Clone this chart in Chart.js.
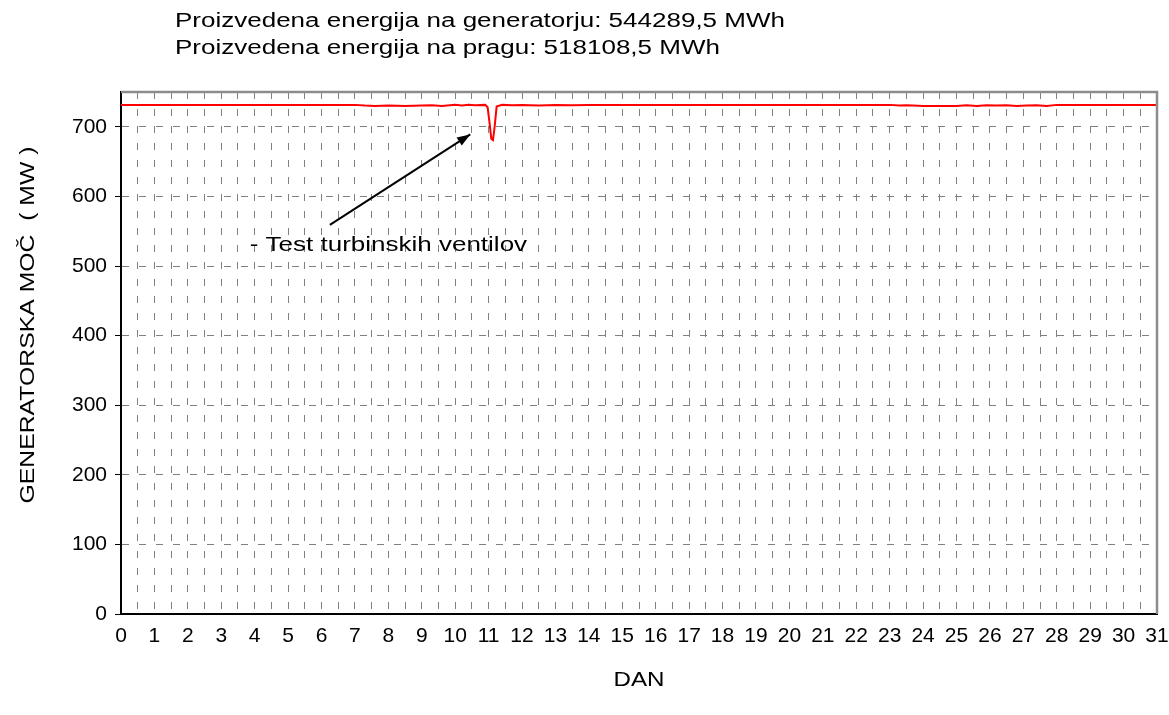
<!DOCTYPE html>
<html>
<head>
    <title>generatorska-moc</title>
    <meta charset="utf-8">
    <script src="https://cdn.jsdelivr.net/npm/chart.js"></script>
    <style>
        body { margin: 0; background: #fff; }
        #wrap { width: 1169px; height: 715px; }
    </style>
</head>
<body>
    <div id="wrap">
        <canvas id="chart"></canvas>
    </div>

    <script>
        // data (day of month, MW)
        const days = [0, 0.5, 1, 2, 3, 4, 5, 6, 7, 7.3, 7.6, 8, 8.5, 9, 9.3, 9.6, 10, 10.2, 10.4, 10.6, 10.9,
            10.97, 11.03, 11.08, 11.13, 11.18, 11.24, 11.4, 11.7, 12, 12.5, 13, 13.5, 14, 15, 16, 17, 18,
            19, 20, 21, 22, 23, 23.3, 23.5, 23.7, 24, 24.5, 25, 25.3, 25.6, 25.9, 26.2, 26.5, 26.8, 27.1,
            27.4, 27.7, 28, 28.5, 29, 30, 31];
        const mw = [731.5, 731.5, 731.5, 731.5, 731.5, 731.5, 731.5, 731.5, 731.5, 730.5, 730, 730.5, 730, 730.5, 731, 730, 731.5, 730.5, 731.5, 731, 731.5,
            728, 705, 683, 681, 700, 729, 731.5, 731, 731.5, 730.5, 731.5, 731, 731.5, 731.5, 731.5, 731.5, 731.5,
            731.5, 731.5, 731.5, 731.5, 731.5, 730.5, 731, 730.5, 730, 730, 730, 731, 730, 731, 730.5, 731, 730, 730.5,
            731, 730, 731.5, 731.5, 731.5, 731.5, 731.5];
        const yTicks = [0, 100, 200, 300, 400, 500, 600, 700];

        const titleLines = [
            'Proizvedena energija na generatorju: 544289,5 MWh',
            'Proizvedena energija na pragu: 518108,5 MWh'
        ];
        const yTitle = 'GENERATORSKA MOČ  ( MW )';
        const xTitle = 'DAN';
        const noteText = '- Test turbinskih ventilov';
        const arrowFrom = [6.25, 559];
        const arrowTo = [10.45, 689];
        const notePos = [3.85, 529];

        const font = 'Liberation Sans, Arial, sans-serif';

        // text a bit wider than the font, as in the original picture
        function wideText(ctx, text, x, y, stretch, rot) {
            ctx.save();
            ctx.translate(x, y);
            if (rot) ctx.rotate(rot);
            ctx.scale(stretch, 1);
            ctx.fillText(text, 0, 0);
            ctx.restore();
        }

        const extras = {
            id: 'extras',
            afterDraw(chart) {
                const ctx = chart.ctx;
                const a = chart.chartArea;
                const xs = chart.scales.x, ys = chart.scales.y;
                ctx.save();
                // gray frame top/right
                ctx.strokeStyle = '#8c8c8c';
                ctx.lineWidth = 2.5;
                ctx.beginPath();
                ctx.moveTo(a.left, a.top);
                ctx.lineTo(a.right, a.top);
                ctx.lineTo(a.right, a.bottom);
                ctx.stroke();

                ctx.fillStyle = '#000';
                ctx.font = '20px ' + font;
                ctx.textBaseline = 'middle';
                ctx.textAlign = 'left';
                wideText(ctx, titleLines[0], 175, 21, 1.3);
                wideText(ctx, titleLines[1], 175, 48, 1.3);

                // axis titles
                ctx.textAlign = 'center';
                ctx.font = '21px ' + font;
                wideText(ctx, xTitle, (a.left + a.right) / 2, 680, 1.15);
                wideText(ctx, yTitle, 28, 325, 1.18, -Math.PI / 2);

                // note + arrow
                ctx.textAlign = 'left';
                ctx.font = '20px ' + font;
                wideText(ctx, noteText, xs.getPixelForValue(notePos[0]), ys.getPixelForValue(notePos[1]), 1.3);
                const x1 = xs.getPixelForValue(arrowFrom[0]), y1 = ys.getPixelForValue(arrowFrom[1]);
                const x2 = xs.getPixelForValue(arrowTo[0]), y2 = ys.getPixelForValue(arrowTo[1]);
                ctx.strokeStyle = '#000';
                ctx.lineWidth = 2;
                ctx.beginPath();
                ctx.moveTo(x1, y1);
                ctx.lineTo(x2, y2);
                ctx.stroke();
                const ang = Math.atan2(y2 - y1, x2 - x1);
                ctx.beginPath();
                ctx.moveTo(x2, y2);
                ctx.lineTo(x2 - 14 * Math.cos(ang - 0.35), y2 - 14 * Math.sin(ang - 0.35));
                ctx.lineTo(x2 - 14 * Math.cos(ang + 0.35), y2 - 14 * Math.sin(ang + 0.35));
                ctx.closePath();
                ctx.fill();
                ctx.restore();
            }
        };

        new Chart(document.getElementById('chart'), {
            type: 'line',
            data: {
                datasets: [{
                    data: days.map((d, i) => ({ x: d, y: mw[i] })),
                    borderColor: '#ff0000',
                    borderWidth: 2,
                    pointRadius: 0,
                    tension: 0,
                    fill: false
                }]
            },
            options: {
                responsive: true,
                maintainAspectRatio: false,
                animation: false,
                layout: { padding: { top: 92, right: 12, left: 0, bottom: 0 } },
                plugins: {
                    legend: { display: false },
                    tooltip: { enabled: false }
                },
                scales: {
                    x: {
                        type: 'linear',
                        min: 0,
                        max: 31,
                        afterFit(scale) {
                            scale.height = 101;
                            scale.paddingLeft = 0;
                            scale.paddingRight = 0;
                        },
                        ticks: {
                            stepSize: 0.5,
                            autoSkip: false,
                            maxRotation: 0,
                            padding: 10,
                            color: '#000',
                            font: { family: font, size: 21 },
                            callback: v => (v % 1 === 0 ? v : '')
                        },
                        grid: {
                            color: '#808080',
                            lineWidth: 1,
                            drawTicks: false
                        },
                        border: { color: '#000', width: 2, dash: [7, 10] }
                    },
                    y: {
                        min: 0,
                        max: 750,
                        afterFit(scale) { scale.width = 121; },
                        afterBuildTicks(scale) { scale.ticks = yTicks.map(v => ({ value: v })); },
                        ticks: {
                            padding: 8,
                            color: '#000',
                            font: { family: font, size: 21 }
                        },
                        grid: {
                            color: '#808080',
                            lineWidth: 1,
                            tickLength: 6,
                            tickColor: '#000',
                            tickBorderDash: []
                        },
                        border: { color: '#000', width: 2, dash: [7, 10] }
                    }
                }
            },
            plugins: [extras]
        });
    </script>
</body>
</html>
